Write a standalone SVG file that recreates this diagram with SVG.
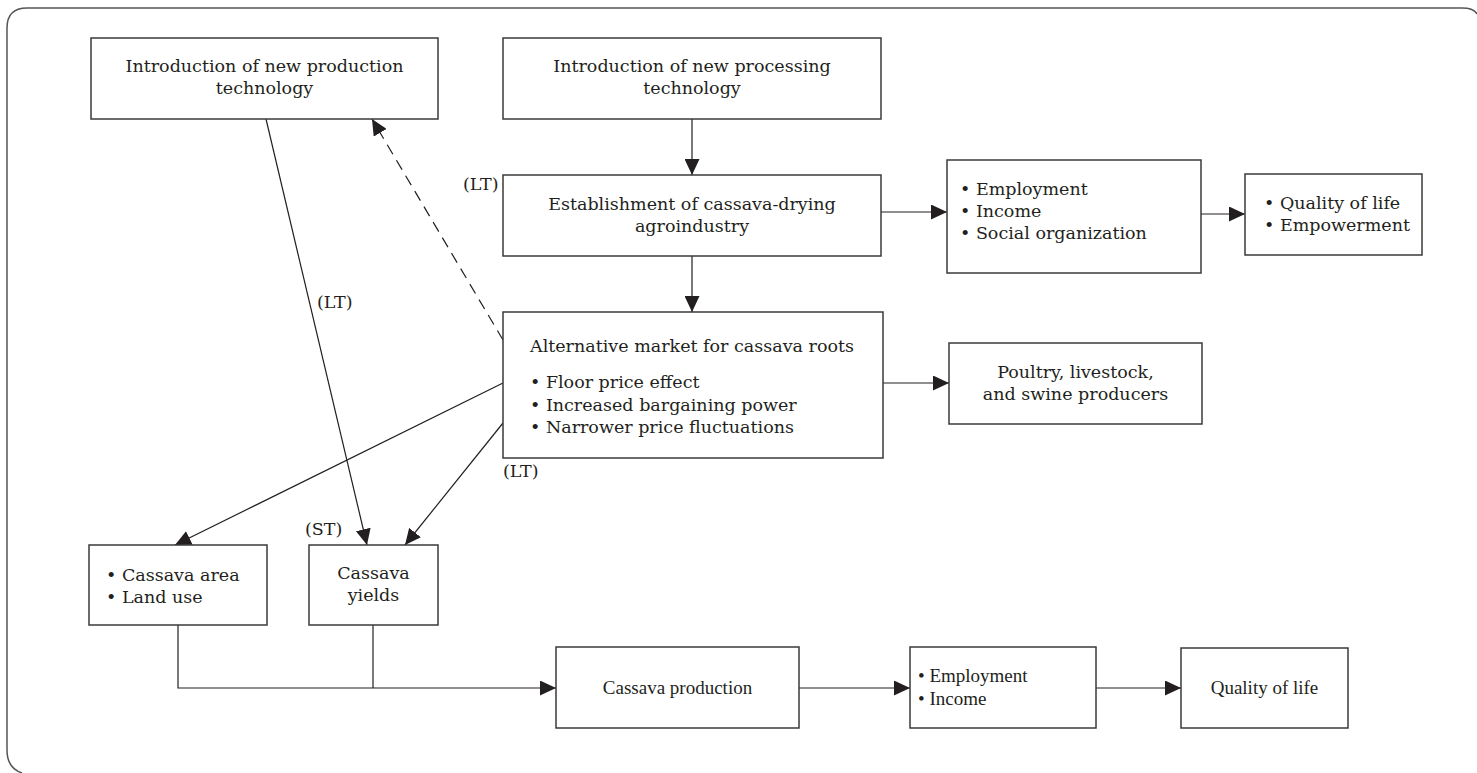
<svg xmlns="http://www.w3.org/2000/svg" width="1477" height="773" viewBox="0 0 1477 773">
  <style>
    .box { fill: #ffffff; stroke: #3a3a3a; stroke-width: 1.5; }
    .t { font-family: "DejaVu Serif", "Liberation Serif", serif; font-size: 17.5px; fill: #231f20; }
    .tb { font-family: "Liberation Serif", "Times New Roman", serif; font-size: 19px; fill: #231f20; }
    .c { text-anchor: middle; }
    .ln { fill: none; stroke: #231f20; stroke-width: 1.2; }
    .dash { stroke-dasharray: 11 7; }
    .frame { fill: none; stroke: #555555; stroke-width: 1.5; }
  </style>
  <defs>
    <marker id="arr" markerUnits="userSpaceOnUse" markerWidth="17" markerHeight="15" refX="16" refY="7.5" orient="auto">
      <path d="M0,0 L16,7.5 L0,15 Z" fill="#231f20"/>
    </marker>
  </defs>

  <rect width="1477" height="773" fill="#ffffff"/>
  <path class="frame" d="M1477,14 Q1474,8 1462,8 L27,8 Q7,8 7,28 L7,750 Q7,768 22,773"/>

  <g id="connectors">
    <line class="ln" x1="266" y1="119" x2="367" y2="545" marker-end="url(#arr)"/>
    <line class="ln dash" x1="503" y1="340" x2="372" y2="119" marker-end="url(#arr)"/>
    <line class="ln" x1="692" y1="119" x2="692" y2="175" marker-end="url(#arr)"/>
    <line class="ln" x1="692" y1="256" x2="692" y2="312" marker-end="url(#arr)"/>
    <line class="ln" x1="881" y1="212" x2="947" y2="212" marker-end="url(#arr)"/>
    <line class="ln" x1="1201" y1="214" x2="1245" y2="214" marker-end="url(#arr)"/>
    <line class="ln" x1="883" y1="383" x2="949" y2="383" marker-end="url(#arr)"/>
    <line class="ln" x1="503" y1="383" x2="175" y2="545" marker-end="url(#arr)"/>
    <line class="ln" x1="503" y1="423" x2="405" y2="545" marker-end="url(#arr)"/>
    <polyline class="ln" points="178,625 178,688 556,688" marker-end="url(#arr)"/>
    <line class="ln" x1="373" y1="625" x2="373" y2="688"/>
    <line class="ln" x1="799" y1="688" x2="910" y2="688" marker-end="url(#arr)"/>
    <line class="ln" x1="1096" y1="688" x2="1181" y2="688" marker-end="url(#arr)"/>
    <text class="t" x="463" y="190">(LT)</text>
    <text class="t" x="317" y="308">(LT)</text>
    <text class="t" x="503" y="477">(LT)</text>
    <text class="t" x="305" y="535">(ST)</text>
  </g>

  <g id="new-production-technology">
    <rect class="box" x="91" y="38" width="347" height="81"/>
    <text class="t c" x="264.5" y="72">Introduction of new production</text>
    <text class="t c" x="264.5" y="94">technology</text>
  </g>

  <g id="new-processing-technology">
    <rect class="box" x="503" y="38" width="378" height="81"/>
    <text class="t c" x="692" y="72">Introduction of new processing</text>
    <text class="t c" x="692" y="94">technology</text>
  </g>

  <g id="drying-agroindustry">
    <rect class="box" x="503" y="175" width="378" height="81"/>
    <text class="t c" x="692" y="210">Establishment of cassava-drying</text>
    <text class="t c" x="692" y="232">agroindustry</text>
  </g>

  <g id="social-outcomes">
    <rect class="box" x="947" y="160" width="254" height="113"/>
    <text class="t" x="960" y="195">• Employment</text>
    <text class="t" x="960" y="217">• Income</text>
    <text class="t" x="960" y="239">• Social organization</text>
  </g>

  <g id="empowerment">
    <rect class="box" x="1245" y="174" width="177" height="81"/>
    <text class="t" x="1264" y="209">• Quality of life</text>
    <text class="t" x="1264" y="231">• Empowerment</text>
  </g>

  <g id="alternative-market">
    <rect class="box" x="503" y="312" width="380" height="146"/>
    <text class="t" x="530" y="352">Alternative market for cassava roots</text>
    <text class="t" x="530" y="388">• Floor price effect</text>
    <text class="t" x="530" y="411">• Increased bargaining power</text>
    <text class="t" x="530" y="433">• Narrower price fluctuations</text>
  </g>

  <g id="feed-producers">
    <rect class="box" x="949" y="343" width="253" height="81"/>
    <text class="t c" x="1075.5" y="378">Poultry, livestock,</text>
    <text class="t c" x="1075.5" y="400">and swine producers</text>
  </g>

  <g id="cassava-area">
    <rect class="box" x="89" y="545" width="178" height="80"/>
    <text class="t" x="106" y="581">• Cassava area</text>
    <text class="t" x="106" y="603">• Land use</text>
  </g>

  <g id="cassava-yields">
    <rect class="box" x="309" y="545" width="129" height="80"/>
    <text class="t c" x="373.5" y="579">Cassava</text>
    <text class="t c" x="373.5" y="601">yields</text>
  </g>

  <g id="cassava-production">
    <rect class="box" x="556" y="647" width="243" height="81"/>
    <text class="tb c" x="677.5" y="694">Cassava production</text>
  </g>

  <g id="employment-income">
    <rect class="box" x="910" y="647" width="186" height="81"/>
    <text class="tb" x="918" y="682">• Employment</text>
    <text class="tb" x="918" y="705">• Income</text>
  </g>

  <g id="quality-of-life">
    <rect class="box" x="1181" y="648" width="167" height="80"/>
    <text class="tb c" x="1264.5" y="694">Quality of life</text>
  </g>
</svg>
